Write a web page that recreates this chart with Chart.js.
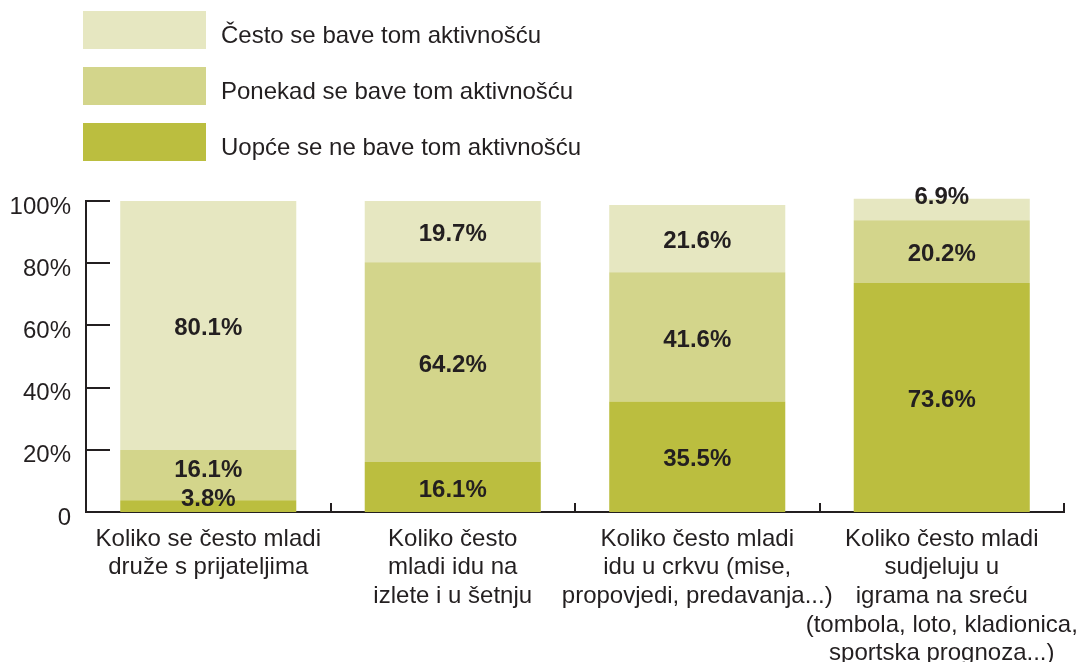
<!DOCTYPE html>
<html>
<head>
<meta charset="utf-8">
<script src="https://cdn.jsdelivr.net/npm/chart.js@4/dist/chart.umd.min.js"></script>
<style>
  html, body { margin: 0; padding: 0; background: #fff; }
  #wrap { position: relative; width: 1079px; height: 662px; }
  #legend { position: absolute; left: 83px; top: 11px; font-family: "Liberation Sans", Arial, sans-serif; font-size: 24px; color: #231f20; }
  .item { display: flex; align-items: center; height: 38px; margin-bottom: 18px; }
  .item span { position: relative; top: 5px; }
  .swatch { width: 123px; height: 38px; margin-right: 15px; }
</style>
</head>
<body>
<div id="wrap">
  <canvas id="chart" width="1079" height="662"></canvas>
  <div id="legend"></div>
</div>
<script>
// categories (x axis, multi-line)
const categories = [
  ['Koliko se često mladi', 'druže s prijateljima'],
  ['Koliko često', 'mladi idu na', 'izlete i u šetnju'],
  ['Koliko često mladi', 'idu u crkvu (mise,', 'propovjedi, predavanja...)'],
  ['Koliko često mladi', 'sudjeluju u', 'igrama na sreću', '(tombola, loto, kladionica,', 'sportska prognoza...)']
];

// series, bottom to top
const neverValues = [3.8, 16.1, 35.5, 73.6];
const sometimesValues = [16.1, 64.2, 41.6, 20.2];
const oftenValues = [80.1, 19.7, 21.6, 6.9];

const seriesLabels = ['Uopće se ne bave tom aktivnošću', 'Ponekad se bave tom aktivnošću', 'Često se bave tom aktivnošću'];
const seriesColors = ['#bbbe3f', '#d3d58b', '#e6e7c1'];

const yTicks = [0, 20, 40, 60, 80, 100];

const ink = '#231f20';
const font = '"Liberation Sans", Arial, sans-serif';

// legend (top item = top of stack)
const legendEl = document.getElementById('legend');
for (let i = seriesLabels.length - 1; i >= 0; i--) {
  legendEl.innerHTML += `<div class="item"><div class="swatch" style="background:${seriesColors[i]}"></div><span>${seriesLabels[i]}</span></div>`;
}

// value labels inside the segments
const valueLabels = {
  id: 'valueLabels',
  afterDatasetsDraw(chart) {
    const ctx = chart.ctx;
    ctx.save();
    ctx.font = 'bold 24px ' + font;
    ctx.fillStyle = ink;
    ctx.textAlign = 'center';
    ctx.textBaseline = 'middle';
    const lastTop = {};
    chart.data.datasets.forEach((ds, di) => {
      chart.getDatasetMeta(di).data.forEach((bar, i) => {
        const h = bar.base - bar.y;
        let cy = h < 24 ? bar.y - 2 : (bar.y + bar.base) / 2 + 2;
        // keep clear of a label pushed up from the segment below
        if (lastTop[i] !== undefined && cy + 13 > lastTop[i] - 4) cy = lastTop[i] - 20;
        ctx.fillText(ds.data[i].toFixed(1) + '%', bar.x, cy + 1);
        lastTop[i] = cy - 9;
      });
    });
    ctx.restore();
  }
};

// inward tick marks
const tickMarks = {
  id: 'tickMarks',
  afterDraw(chart) {
    const { ctx, chartArea, scales } = chart;
    ctx.save();
    ctx.strokeStyle = ink;
    ctx.lineWidth = 2;
    ctx.beginPath();
    yTicks.forEach(v => {
      const py = Math.round(scales.y.getPixelForValue(v));
      ctx.moveTo(chartArea.left, py);
      ctx.lineTo(chartArea.left + 24, py);
    });
    const n = categories.length;
    const w = (chartArea.right - chartArea.left) / n;
    for (let i = 1; i <= n; i++) {
      const px = Math.round(chartArea.left + i * w);
      ctx.moveTo(px, chartArea.bottom);
      ctx.lineTo(px, chartArea.bottom - 9);
    }
    ctx.stroke();
    ctx.restore();
  }
};

const values = [neverValues, sometimesValues, oftenValues];

new Chart(document.getElementById('chart'), {
  type: 'bar',
  data: {
    labels: categories,
    datasets: values.map((data, i) => ({
      label: seriesLabels[i],
      data: data,
      backgroundColor: seriesColors[i],
      borderWidth: 0,
      categoryPercentage: 1,
      barPercentage: 0.72,
      clip: false
    }))
  },
  options: {
    responsive: false,
    animation: false,
    layout: { padding: { left: 0, top: 201, right: 15, bottom: 0 } },
    plugins: { legend: { display: false }, tooltip: { enabled: false } },
    scales: {
      x: {
        stacked: true,
        grid: { display: false },
        border: { display: true, color: ink, width: 2 },
        ticks: { color: ink, font: { family: font, size: 24, lineHeight: 1.19 }, padding: 5, maxRotation: 0, autoSkip: false },
        afterFit(scale) {
          scale.height = 150;
          scale.paddingLeft = 0;
          scale.paddingRight = 0;
        }
      },
      y: {
        stacked: true,
        min: 0,
        max: 100,
        grid: { display: false },
        border: { display: true, color: ink, width: 2 },
        ticks: {
          stepSize: 20,
          color: ink,
          font: { family: font, size: 24 },
          padding: 7,
          labelOffset: 6,
          callback: v => v === 0 ? '0' : v + '%'
        },
        afterFit(scale) {
          scale.width = 86;
          scale.paddingTop = 0;
          scale.paddingBottom = 0;
        }
      }
    }
  },
  plugins: [valueLabels, tickMarks]
});
</script>
</body>
</html>
